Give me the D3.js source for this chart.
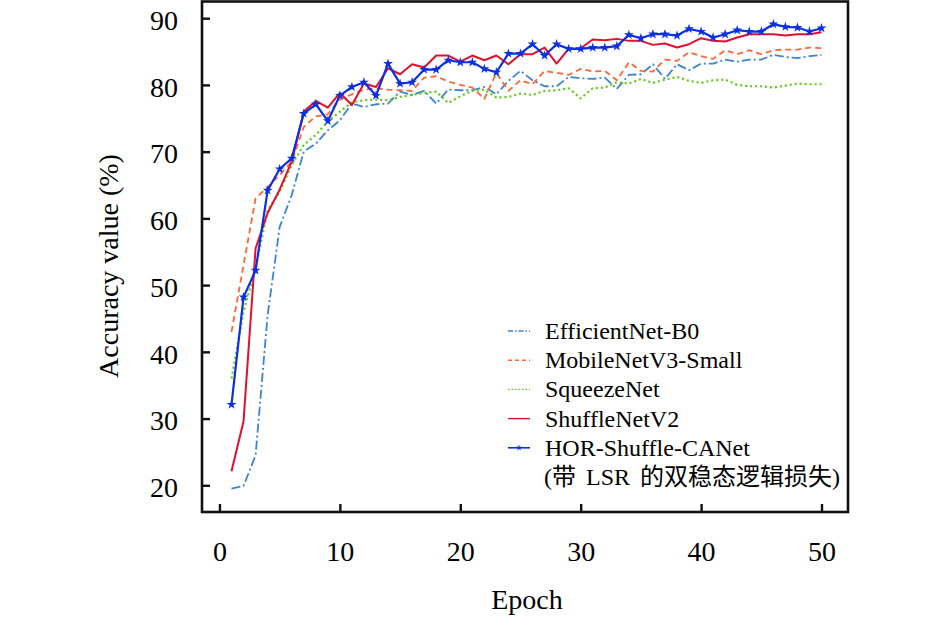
<!DOCTYPE html>
<html>
<head>
<meta charset="utf-8">
<script src="https://cdn.jsdelivr.net/npm/d3@7"></script>
<style>
  body { margin: 0; background: #fff; }
  svg { display: block; }
  text { font-family: "Liberation Serif", "Times New Roman", "Noto Sans CJK SC", serif; fill: #000; }
</style>
</head>
<body>
<svg id="mysvg"></svg>
<script>
// epochs 1..50
let epochs = d3.range(1, 51);

let seriesNames = ["EfficientNet-B0", "MobileNetV3-Small", "SqueezeNet", "ShuffleNetV2", "HOR-Shuffle-CANet"];

let effB0 = [19.5, 19.9, 24.5, 45.5, 58.7, 63.5, 70.0, 71.2, 73.2, 74.7,
             77.2, 76.7, 77.1, 77.2, 79.0, 78.5, 79.1, 77.2, 79.3, 79.2,
             79.2, 79.7, 78.6, 80.6, 82.1, 80.7, 79.8, 79.8, 81.2, 81.0,
             80.9, 81.1, 79.4, 81.5, 81.6, 83.1, 80.9, 83.1, 82.2, 83.2,
             83.2, 83.8, 83.5, 83.8, 83.8, 84.5, 84.2, 84.0, 84.3, 84.5];

let mbv3 = [43.0, 53.0, 63.0, 64.7, 66.5, 68.5, 73.7, 75.3, 75.6, 77.8,
            78.6, 79.3, 79.5, 79.3, 79.2, 79.1, 81.1, 81.3, 80.5, 80.0,
            79.6, 77.9, 81.8, 79.1, 80.7, 80.1, 82.1, 81.8, 81.5, 82.4,
            82.0, 82.1, 80.7, 83.4, 82.1, 82.0, 83.8, 83.6, 84.9, 84.3,
            83.9, 85.2, 84.6, 85.2, 84.6, 85.2, 85.3, 85.3, 85.6, 85.5];

let sqz = [36.0, 46.0, 52.5, 61.2, 64.0, 68.0, 71.0, 72.5, 74.5, 76.0,
           77.4, 77.7, 77.8, 77.7, 78.2, 78.5, 78.8, 79.0, 77.3, 78.3,
           79.1, 79.3, 78.1, 78.2, 78.7, 78.5, 79.1, 79.2, 79.5, 78.0,
           79.5, 79.6, 80.4, 80.2, 80.9, 80.3, 80.8, 81.2, 80.6, 80.3,
           80.7, 80.8, 80.0, 79.8, 79.8, 79.6, 79.9, 80.2, 80.1, 80.1];

let shf = [22.1, 29.6, 55.5, 60.8, 64.3, 68.5, 76.0, 77.6, 76.6, 78.8,
           77.0, 80.2, 79.7, 82.5, 81.6, 83.1, 82.6, 84.4, 84.4, 83.5,
           84.4, 83.7, 84.4, 83.1, 84.6, 84.6, 85.6, 83.2, 85.4, 85.5,
           86.8, 86.7, 86.9, 86.6, 86.6, 86.0, 86.2, 85.6, 86.1, 87.0,
           86.6, 86.5, 87.1, 87.6, 87.6, 87.6, 87.4, 87.6, 87.6, 87.9];

let hor = [32.1, 48.2, 52.2, 64.2, 67.4, 69.0, 75.7, 77.1, 74.6, 78.4,
           79.7, 80.4, 78.4, 83.2, 80.2, 80.4, 82.3, 82.3, 83.7, 83.4,
           83.4, 82.4, 81.9, 84.7, 84.7, 86.1, 84.4, 86.1, 85.4, 85.4,
           85.6, 85.6, 85.8, 87.5, 87.0, 87.6, 87.6, 87.4, 88.4, 88.0,
           87.1, 87.6, 88.2, 88.0, 88.0, 89.1, 88.7, 88.6, 88.0, 88.5];

let xTicks = [0, 10, 20, 30, 40, 50];
let yTicks = [20, 30, 40, 50, 60, 70, 80, 90];

let legendNote = "(带 LSR 的双稳态逻辑损失)";

function draw() {
    var svg = d3.select("#mysvg")
        .attr("width", 945)
        .attr("height", 619);

    // plot box in page pixels
    var left = 202, right = 848, top = 1.5, bottom = 512;

    var x = d3.scaleLinear().domain([-1.45, 52.2]).range([left, right]);
    var y = d3.scaleLinear().domain([16.0, 92.5]).range([bottom, top]);

    var series = [
        { name: seriesNames[0], values: effB0, color: "#3b84d0", dash: "9,3,2,3", width: 1.8 },
        { name: seriesNames[1], values: mbv3,  color: "#ff6633", dash: "6,4",     width: 1.8 },
        { name: seriesNames[2], values: sqz,   color: "#5fcc12", dash: "2,3",     width: 2.2 },
        { name: seriesNames[3], values: shf,   color: "#e0102e", dash: null,      width: 2 },
        { name: seriesNames[4], values: hor,   color: "#0b30e4", dash: null,      width: 2.2, star: true }
    ];

    var g = svg.append("g");

    // clip so nothing pokes through the frame
    svg.append("clipPath").attr("id", "plotclip")
        .append("rect").attr("x", left).attr("y", top)
        .attr("width", right - left).attr("height", bottom - top);

    var line = d3.line()
        .x(function(d, i) { return x(epochs[i]); })
        .y(function(d) { return y(d); });

    var lines = g.append("g").attr("clip-path", "url(#plotclip)");

    series.forEach(function(s) {
        lines.append("path")
            .datum(s.values)
            .attr("fill", "none")
            .attr("stroke", s.color)
            .attr("stroke-width", s.width)
            .attr("stroke-dasharray", s.dash)
            .attr("stroke-linejoin", "round")
            .attr("d", line);

        if (s.star) {
            lines.append("g")
                .selectAll("path")
                .data(s.values)
                .enter()
                .append("path")
                .attr("transform", function(d, i) { return "translate(" + x(epochs[i]) + "," + y(d) + ")"; })
                .attr("d", d3.symbol().type(d3.symbolStar).size(30))
                .attr("fill", s.color);
        }
    });

    // axes, ticks pointing inward
    var xAxis = g.append("g")
        .attr("transform", "translate(0," + bottom + ")")
        .call(d3.axisBottom(x).tickValues(xTicks).tickSizeInner(-8).tickSizeOuter(0).tickPadding(20));

    var yAxis = g.append("g")
        .attr("transform", "translate(" + left + ",0)")
        .call(d3.axisLeft(y).tickValues(yTicks).tickSizeInner(-8).tickSizeOuter(0).tickPadding(24));

    [xAxis, yAxis].forEach(function(a) {
        a.select(".domain").remove();
        a.selectAll(".tick line").attr("stroke", "#111").attr("stroke-width", 2.4);
        a.selectAll(".tick text")
            .attr("font-family", "Liberation Serif, Times New Roman, serif")
            .attr("font-size", "28px")
            .attr("fill", "#000");
    });
    xAxis.selectAll(".tick text").attr("dy", "1.05em");
    yAxis.selectAll(".tick text").attr("dy", "0.4em");

    // frame
    g.append("rect")
        .attr("x", left).attr("y", top)
        .attr("width", right - left).attr("height", bottom - top)
        .attr("fill", "none")
        .attr("stroke", "#111")
        .attr("stroke-width", 2.6);

    // axis titles
    g.append("text")
        .attr("x", (left + right) / 2 + 2)
        .attr("y", 609)
        .attr("text-anchor", "middle")
        .attr("font-size", "28px")
        .text("Epoch");

    g.append("text")
        .attr("transform", "translate(118,266) rotate(-90)")
        .attr("text-anchor", "middle")
        .attr("font-size", "28px")
        .text("Accuracy value (%)");

    // legend
    var legend = g.append("g").attr("transform", "translate(508,331)");
    var rowH = 29.2;

    series.forEach(function(s, i) {
        var row = legend.append("g").attr("transform", "translate(0," + (i * rowH) + ")");
        row.append("line")
            .attr("x1", 0).attr("x2", 22)
            .attr("y1", 0).attr("y2", 0)
            .attr("stroke", s.color)
            .attr("stroke-width", s.star ? 1.6 : 1.4)
            .attr("stroke-dasharray", s.dash ? (s.dash === "2,3" ? "1.5,2" : s.dash === "6,4" ? "4,3" : "5,2,1.5,2") : null);
        if (s.star) {
            row.append("path")
                .attr("transform", "translate(11,0)")
                .attr("d", d3.symbol().type(d3.symbolStar).size(12))
                .attr("fill", s.color);
        }
        row.append("text")
            .attr("x", 37)
            .attr("y", 8)
            .attr("font-size", "24px")
            .text(s.name);
    });

    legend.append("text")
        .attr("x", 36)
        .attr("y", 5 * rowH + 8)
        .attr("font-size", "24px")
        .attr("font-family", "Liberation Serif, Noto Sans CJK SC, serif")
        .attr("word-spacing", "4px")
        .text(legendNote);
}

draw();
</script>
</body>
</html>
